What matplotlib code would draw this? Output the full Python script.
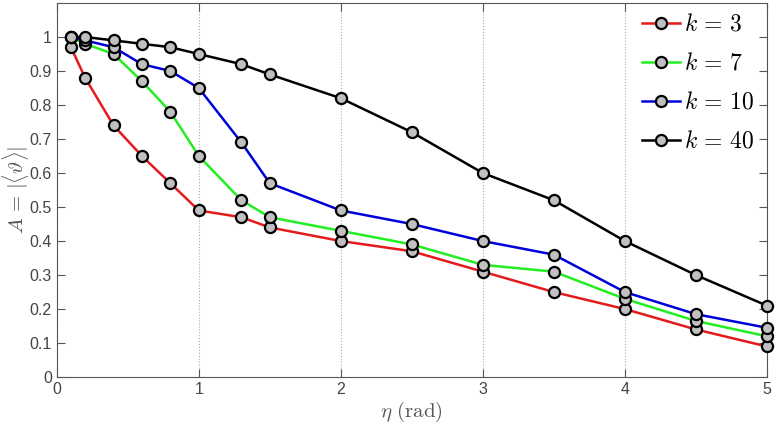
import matplotlib
matplotlib.use('Agg')
import matplotlib.pyplot as plt

plt.rcParams['mathtext.fontset'] = 'cm'
plt.rcParams['font.family'] = ['Liberation Sans', 'DejaVu Sans']

# eta values (rad)
eta = [0.1, 0.2, 0.4, 0.6, 0.8, 1.0, 1.3, 1.5, 2.0, 2.5, 3.0, 3.5, 4.0, 4.5, 5.0]

# A = |<theta>| for each k
A_k3 = [0.97, 0.88, 0.74, 0.65, 0.57, 0.49, 0.47, 0.44, 0.40, 0.37, 0.31, 0.25, 0.20, 0.14, 0.09]
A_k7 = [1.00, 0.98, 0.95, 0.87, 0.78, 0.65, 0.52, 0.47, 0.43, 0.39, 0.33, 0.31, 0.23, 0.165, 0.12]
A_k10 = [1.00, 0.99, 0.97, 0.92, 0.90, 0.85, 0.69, 0.57, 0.49, 0.45, 0.40, 0.36, 0.25, 0.185, 0.145]
A_k40 = [1.00, 1.00, 0.99, 0.98, 0.97, 0.95, 0.92, 0.89, 0.82, 0.72, 0.60, 0.52, 0.40, 0.30, 0.21]

series = [(A_k3, '#e41a1c', '$k\\,=\\,3$'),
          (A_k7, '#22ee22', '$k\\,=\\,7$'),
          (A_k10, '#0000dd', '$k\\,=\\,10$'),
          (A_k40, '#000000', '$k\\,=\\,40$')]

fig = plt.figure(figsize=(7.77, 4.28), dpi=100)
ax = fig.add_axes([0.073, 0.119, 0.914, 0.874])

for vals, col, lab in series:
    ax.plot(eta, vals, color=col, lw=1.8, marker='o', ms=8,
            mfc='#c0c0c0', mec='black', mew=1.6, label=lab, clip_on=False, zorder=3)

ax.set_xlim(0, 5)
ax.set_ylim(0, 1.1)
ax.set_xticks([0, 1, 2, 3, 4, 5])
ax.set_yticks([0, 0.1, 0.2, 0.3, 0.4, 0.5, 0.6, 0.7, 0.8, 0.9, 1])
ax.set_yticklabels(['0', '0.1', '0.2', '0.3', '0.4', '0.5', '0.6', '0.7', '0.8', '0.9', '1'])
ax.xaxis.grid(True, linestyle=':', color='#aaaaaa', lw=0.8)
ax.tick_params(direction='in', top=True, right=True, labelsize=11.5,
               colors='#555555', labelcolor='#444444', length=6)
for s in ax.spines.values():
    s.set_color('#555555')

ax.set_xlabel('$\\eta\\ \\mathrm{(rad)}$', fontsize=15, color='#555555', labelpad=2)
ax.set_ylabel('$A\\,=\\,|\\langle\\vartheta\\rangle|$', fontsize=15, color='#555555')
ax.yaxis.set_label_coords(-0.036, 0.5)

leg = ax.legend(loc='upper right', bbox_to_anchor=(0.993, 0.99), frameon=False,
                fontsize=17, handlelength=1.6, handletextpad=0.2, labelspacing=0.72,
                borderaxespad=0.0, borderpad=0.3)

fig.savefig('out.png', dpi=100)
